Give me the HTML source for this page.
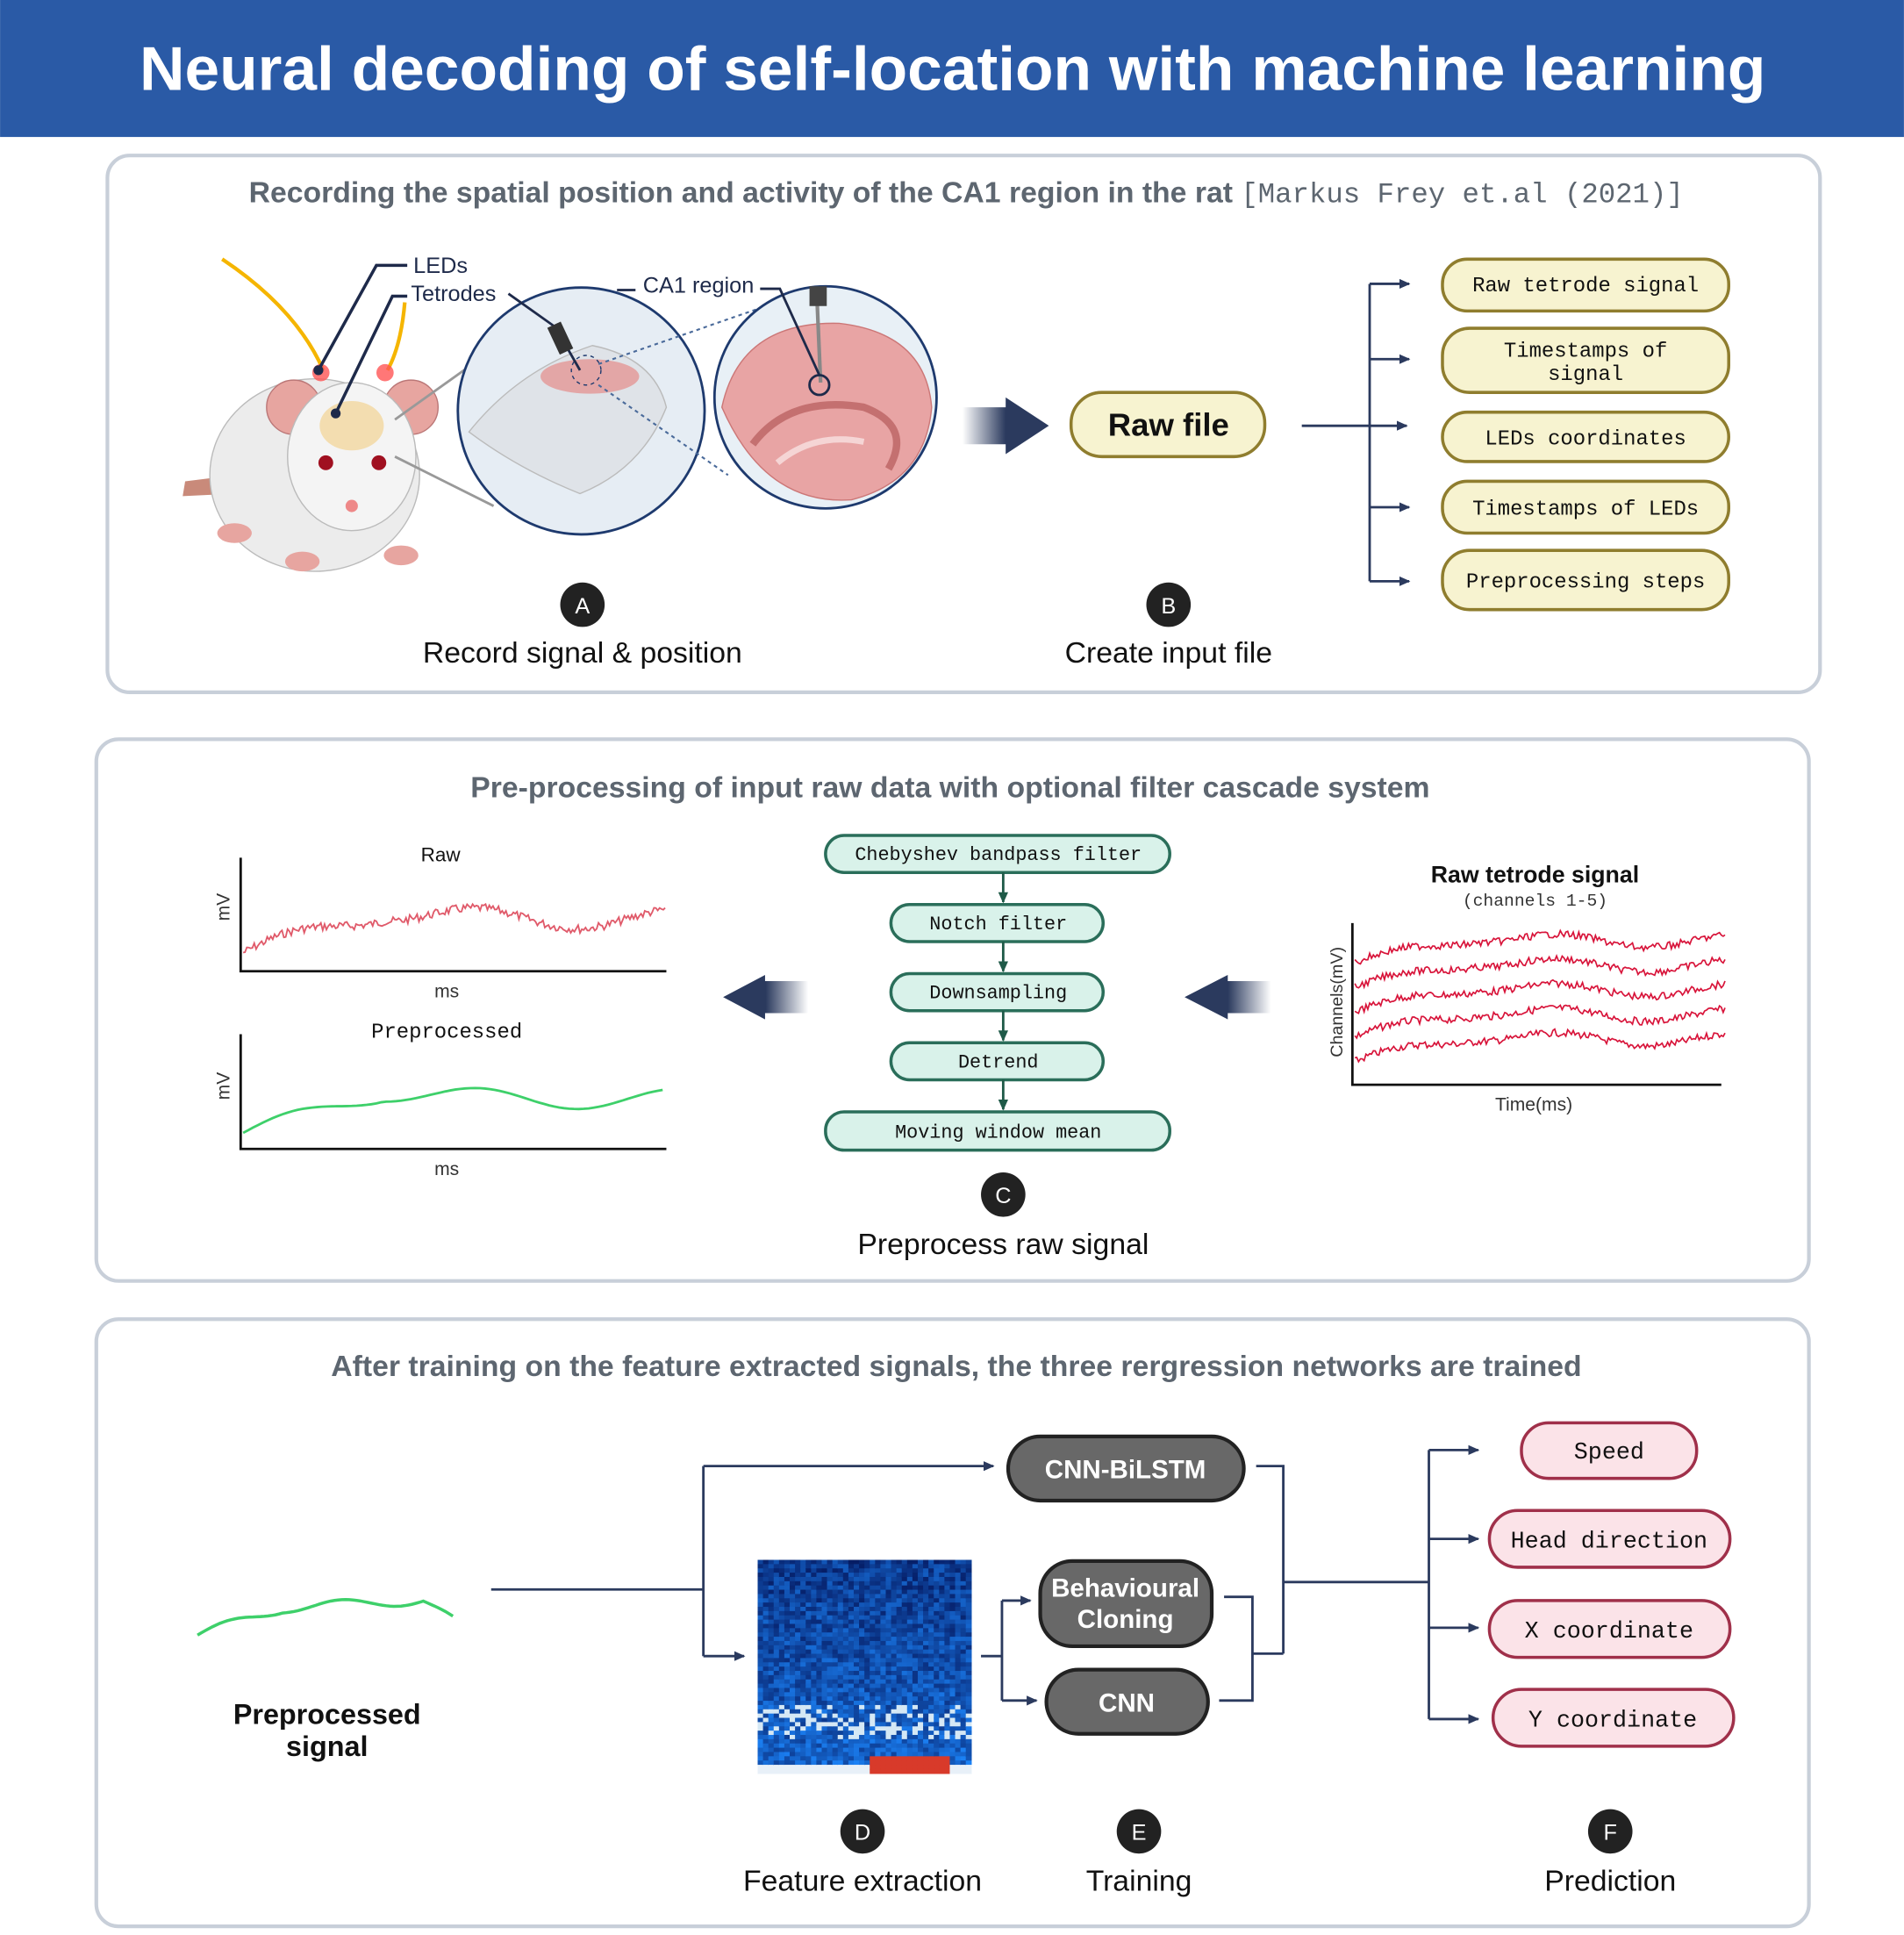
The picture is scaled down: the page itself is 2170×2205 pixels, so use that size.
<!DOCTYPE html>
<html><head><meta charset="utf-8">
<style>
html,body{margin:0;padding:0;background:#fff;}
svg{display:block;}
text{font-family:"Liberation Sans",sans-serif;}
.mono{font-family:"Liberation Mono",monospace;}
</style></head>
<body>
<svg id="s" width="2170" height="2205" viewBox="0 0 1543 1568" xmlns="http://www.w3.org/2000/svg">
<defs>
<marker id="ah" markerWidth="10" markerHeight="10" refX="8" refY="5" orient="auto" markerUnits="userSpaceOnUse"><path d="M0,1 L9,5 L0,9 z" fill="#2b3a5e"/></marker>
<marker id="ag" markerWidth="10" markerHeight="10" refX="8" refY="5" orient="auto" markerUnits="userSpaceOnUse"><path d="M0,1 L9,5 L0,9 z" fill="#1f5a48"/></marker>
<linearGradient id="gr" x1="0" x2="1"><stop offset="0" stop-color="#2b3a5e" stop-opacity="0"/><stop offset="0.5" stop-color="#2b3a5e"/><stop offset="1" stop-color="#2b3a5e"/></linearGradient>
<linearGradient id="gl" x1="1" x2="0"><stop offset="0" stop-color="#2b3a5e" stop-opacity="0"/><stop offset="0.5" stop-color="#2b3a5e"/><stop offset="1" stop-color="#2b3a5e"/></linearGradient>
</defs>
<rect x="0" y="0" width="1543" height="111" fill="#2a5aa6"/>
<text x="772" y="73" text-anchor="middle" font-size="50" font-weight="bold" fill="#fff" textLength="1318" lengthAdjust="spacingAndGlyphs">Neural decoding of self-location with machine learning</text>

<!-- Panel 1 -->
<rect x="87" y="126" width="1388" height="435" rx="18" fill="#fff" stroke="#c8cfd9" stroke-width="3"/>
<text x="783" y="164" text-anchor="middle" font-size="24" font-weight="bold" fill="#5d6670">Recording the spatial position and activity of the CA1 region in the rat <tspan class="mono" font-weight="normal" font-size="23">[Markus Frey et.al (2021)]</tspan></text>

<!-- rat -->
<path d="M180,210 Q240,250 262,300" stroke="#f5b500" stroke-width="3" fill="none"/>
<path d="M328,245 Q325,280 314,300" stroke="#f5b500" stroke-width="3" fill="none"/>
<path d="M150,390 L190,385 L190,400 L148,402z" fill="#c98a7a"/>
<ellipse cx="255" cy="385" rx="85" ry="78" fill="#ececec" stroke="#bbb"/>
<circle cx="238" cy="330" r="22" fill="#e7a5a0" stroke="#b77"/>
<circle cx="333" cy="330" r="22" fill="#e7a5a0" stroke="#b77"/>
<ellipse cx="285" cy="370" rx="52" ry="60" fill="#f4f4f4" stroke="#bbb"/>
<ellipse cx="285" cy="345" rx="26" ry="20" fill="#f3ddb0"/>
<circle cx="264" cy="375" r="6" fill="#a01020"/><circle cx="307" cy="375" r="6" fill="#a01020"/>
<circle cx="285" cy="410" r="5" fill="#e88"/>
<circle cx="260" cy="302" r="7" fill="#f55" opacity="0.8"/><circle cx="312" cy="302" r="7" fill="#f55" opacity="0.8"/>
<ellipse cx="190" cy="432" rx="14" ry="8" fill="#e7a5a0"/><ellipse cx="245" cy="455" rx="14" ry="8" fill="#e7a5a0"/><ellipse cx="325" cy="450" rx="14" ry="8" fill="#e7a5a0"/>
<path d="M258,300 L305,215 L330,215" stroke="#1e2a4a" stroke-width="2.5" fill="none"/>
<path d="M272,335 L318,240 L330,240" stroke="#1e2a4a" stroke-width="2.5" fill="none"/>
<circle cx="258" cy="300" r="4" fill="#1e2a4a"/><circle cx="272" cy="335" r="4" fill="#1e2a4a"/>
<text x="335" y="221" font-size="18" fill="#1e2a4a">LEDs</text>
<text x="333" y="244" font-size="18" fill="#1e2a4a">Tetrodes</text>
<line x1="320" y1="340" x2="390" y2="290" stroke="#999" stroke-width="2"/>
<line x1="320" y1="370" x2="400" y2="410" stroke="#999" stroke-width="2"/>
<circle cx="471" cy="333" r="100" fill="#e6edf4" stroke="#1e3a6e" stroke-width="2"/>
<path d="M380,350 Q420,300 480,280 Q530,290 540,330 Q520,380 470,400 Q420,380 380,350z" fill="#dfe3e8" stroke="#bbb"/>
<ellipse cx="478" cy="305" rx="40" ry="14" fill="#e3a6a6"/>
<circle cx="475" cy="300" r="12" fill="none" stroke="#1e3a6e" stroke-dasharray="3,3"/>
<path d="M412,238 L450,265 L470,300" stroke="#1e2a4a" stroke-width="2" fill="none"/>
<rect x="448" y="262" width="12" height="24" fill="#333" transform="rotate(-25 454 274)"/>
<line x1="485" y1="295" x2="615" y2="250" stroke="#4a6a9a" stroke-dasharray="3,3" stroke-width="1.5"/>
<line x1="485" y1="312" x2="590" y2="385" stroke="#4a6a9a" stroke-dasharray="3,3" stroke-width="1.5"/>
<circle cx="669" cy="322" r="90" fill="#e8f0f6" stroke="#1e3a6e" stroke-width="2"/>
<path d="M585,330 Q600,260 680,262 Q750,270 755,330 Q750,390 690,405 Q620,410 585,330z" fill="#e8a4a4" stroke="#c77"/>
<path d="M610,360 Q640,320 700,330 Q740,345 720,380" stroke="#c47070" stroke-width="6" fill="none"/>
<path d="M630,375 Q660,350 700,358" stroke="#f5d5d5" stroke-width="5" fill="none"/>
<line x1="662" y1="240" x2="665" y2="310" stroke="#888" stroke-width="3"/>
<rect x="656" y="232" width="14" height="16" fill="#444"/>
<circle cx="664" cy="312" r="8" fill="none" stroke="#1e2a4a" stroke-width="2"/>
<path d="M664,304 L632,234 L616,234" stroke="#1e2a4a" stroke-width="2" fill="none"/>
<path d="M500,235 L515,235" stroke="#1e2a4a" stroke-width="2" fill="none"/>
<text x="521" y="237" font-size="18" fill="#1e2a4a">CA1 region</text>

<polygon points="780,330 815,330 815,322 850,345 815,368 815,360 780,360" fill="url(#gr)"/>
<rect x="868" y="318" width="157" height="52" rx="25" fill="#f7f3d0" stroke="#8f7d2e" stroke-width="2.5"/>
<text x="947" y="353" text-anchor="middle" font-size="26" font-weight="bold" fill="#111">Raw file</text>
<line x1="1055" y1="345" x2="1140" y2="345" stroke="#2b3a5e" stroke-width="2" marker-end="url(#ah)"/>
<line x1="1110" y1="230" x2="1110" y2="471" stroke="#2b3a5e" stroke-width="2"/>
<g stroke="#2b3a5e" stroke-width="2" marker-end="url(#ah)">
<line x1="1110" y1="230" x2="1142" y2="230"/><line x1="1110" y1="291" x2="1142" y2="291"/><line x1="1110" y1="411" x2="1142" y2="411"/><line x1="1110" y1="471" x2="1142" y2="471"/></g>
<g fill="#f7f3d0" stroke="#8f7d2e" stroke-width="2.5">
<rect x="1169" y="210" width="232" height="42" rx="20"/><rect x="1169" y="266" width="232" height="52" rx="22"/><rect x="1169" y="334" width="232" height="40" rx="20"/><rect x="1169" y="390" width="232" height="42" rx="20"/><rect x="1169" y="446" width="232" height="48" rx="22"/></g>
<g font-size="17" text-anchor="middle" fill="#111">
<text x="1285" y="236" class="mono">Raw tetrode signal</text>
<text x="1285" y="289" class="mono">Timestamps of</text><text x="1285" y="308" class="mono">signal</text>
<text x="1285" y="360" class="mono">LEDs coordinates</text>
<text x="1285" y="417" class="mono">Timestamps of LEDs</text>
<text x="1285" y="476" class="mono">Preprocessing steps</text></g>
<circle cx="472" cy="490" r="18" fill="#222"/><text x="472" y="497" text-anchor="middle" font-size="18" fill="#fff">A</text>
<text x="472" y="537" text-anchor="middle" font-size="24" fill="#111">Record signal &amp; position</text>
<circle cx="947" cy="490" r="18" fill="#222"/><text x="947" y="497" text-anchor="middle" font-size="18" fill="#fff">B</text>
<text x="947" y="537" text-anchor="middle" font-size="24" fill="#111">Create input file</text>

<!-- Panel 2 -->
<rect x="78" y="599" width="1388" height="439" rx="18" fill="#fff" stroke="#c8cfd9" stroke-width="3"/>
<text x="770" y="646" text-anchor="middle" font-size="24" font-weight="bold" fill="#5d6670">Pre-processing of input raw data with optional filter cascade system</text>
<g stroke="#111" stroke-width="2" fill="none"><path d="M195,695 V787 H540"/><path d="M195,838 V931 H540"/><path d="M1096,748 V879 H1395"/></g>
<text x="357" y="698" text-anchor="middle" font-size="16" fill="#111">Raw</text>
<text x="362" y="841" text-anchor="middle" class="mono" font-size="17" fill="#111">Preprocessed</text>
<text x="362" y="808" text-anchor="middle" font-size="15" fill="#333">ms</text>
<text x="362" y="952" text-anchor="middle" font-size="15" fill="#333">ms</text>
<text transform="translate(186,735) rotate(-90)" text-anchor="middle" font-size="15" fill="#333">mV</text>
<text transform="translate(186,880) rotate(-90)" text-anchor="middle" font-size="15" fill="#333">mV</text>
<polygon points="655,795 620,795 620,790 586,808 620,826 620,821 655,821" fill="url(#gl)"/>
<polygon points="1030,795 995,795 995,790 960,808 995,826 995,821 1030,821" fill="url(#gl)"/>
<g fill="#d9f2ea" stroke="#2a6e5a" stroke-width="2.5">
<rect x="669" y="677" width="279" height="30" rx="15"/><rect x="722" y="733" width="172" height="30" rx="15"/><rect x="722" y="789" width="172" height="30" rx="15"/><rect x="722" y="845" width="172" height="30" rx="15"/><rect x="669" y="901" width="279" height="31" rx="15"/></g>
<g stroke="#1f5a48" stroke-width="2" marker-end="url(#ag)"><line x1="813" y1="707" x2="813" y2="731"/><line x1="813" y1="763" x2="813" y2="787"/><line x1="813" y1="819" x2="813" y2="843"/><line x1="813" y1="875" x2="813" y2="899"/></g>
<g font-size="15.5" text-anchor="middle" fill="#111">
<text x="809" y="697" class="mono">Chebyshev bandpass filter</text><text x="809" y="753" class="mono">Notch filter</text><text x="809" y="809" class="mono">Downsampling</text><text x="809" y="865" class="mono">Detrend</text><text x="809" y="922" class="mono">Moving window mean</text></g>
<circle cx="813" cy="968" r="18" fill="#222"/><text x="813" y="975" text-anchor="middle" font-size="18" fill="#fff">C</text>
<text x="813" y="1016" text-anchor="middle" font-size="24" fill="#111">Preprocess raw signal</text>
<text x="1244" y="715" text-anchor="middle" font-size="19" font-weight="bold" fill="#111">Raw tetrode signal</text>
<text x="1244" y="734" text-anchor="middle" class="mono" font-size="14" fill="#333">(channels 1-5)</text>
<text transform="translate(1088,812) rotate(-90)" text-anchor="middle" font-size="14" fill="#333">Channels(mV)</text>
<text x="1243" y="900" text-anchor="middle" font-size="15" fill="#333">Time(ms)</text>

<!-- Panel 3 -->
<rect x="78" y="1069" width="1388" height="492" rx="18" fill="#fff" stroke="#c8cfd9" stroke-width="3"/>
<text x="775" y="1115" text-anchor="middle" font-size="24" font-weight="bold" fill="#5d6670">After training on the feature extracted signals,  the three rergression networks are trained</text>
<text x="265" y="1397" text-anchor="middle" font-size="23" font-weight="bold" fill="#111">Preprocessed</text>
<text x="265" y="1423" text-anchor="middle" font-size="23" font-weight="bold" fill="#111">signal</text>
<g stroke="#2b3a5e" stroke-width="2" fill="none">
<path d="M398,1288 H570"/><path d="M570,1188 V1342"/>
<line x1="570" y1="1188" x2="805" y2="1188" marker-end="url(#ah)"/>
<line x1="570" y1="1342" x2="603" y2="1342" marker-end="url(#ah)"/>
<path d="M795,1342 H812 V1297 M812,1342 V1378"/>
<line x1="812" y1="1297" x2="835" y2="1297" marker-end="url(#ah)"/>
<line x1="812" y1="1378" x2="840" y2="1378" marker-end="url(#ah)"/>
<path d="M992,1294 H1015 V1378 H988 M1015,1340 H1040 M1018,1188 H1040 V1340 M1040,1282 H1158 M1158,1175 V1393"/>
<line x1="1158" y1="1175" x2="1198" y2="1175" marker-end="url(#ah)"/>
<line x1="1158" y1="1247" x2="1198" y2="1247" marker-end="url(#ah)"/>
<line x1="1158" y1="1319" x2="1198" y2="1319" marker-end="url(#ah)"/>
<line x1="1158" y1="1393" x2="1198" y2="1393" marker-end="url(#ah)"/>
</g>
<g id="spec"></g>
<g fill="#686868" stroke="#222" stroke-width="3">
<rect x="817" y="1164" width="191" height="52" rx="26"/><rect x="843" y="1265" width="139" height="69" rx="26"/><rect x="848" y="1353" width="131" height="52" rx="26"/></g>
<g font-size="21" font-weight="bold" fill="#fff" text-anchor="middle">
<text x="912" y="1198">CNN-BiLSTM</text><text x="912" y="1294">Behavioural</text><text x="912" y="1319">Cloning</text><text x="913" y="1387">CNN</text></g>
<g fill="#fbe3e8" stroke="#a0304a" stroke-width="2.5">
<rect x="1233" y="1153" width="142" height="45" rx="22"/><rect x="1207" y="1224" width="195" height="46" rx="23"/><rect x="1207" y="1297" width="195" height="46" rx="23"/><rect x="1210" y="1369" width="195" height="46" rx="23"/></g>
<g font-size="19" text-anchor="middle" fill="#111">
<text x="1304" y="1182" class="mono">Speed</text><text x="1304" y="1254" class="mono">Head direction</text><text x="1304" y="1327" class="mono">X coordinate</text><text x="1307" y="1399" class="mono">Y coordinate</text></g>
<circle cx="699" cy="1484" r="18" fill="#222"/><text x="699" y="1491" text-anchor="middle" font-size="18" fill="#fff">D</text>
<circle cx="923" cy="1484" r="18" fill="#222"/><text x="923" y="1491" text-anchor="middle" font-size="18" fill="#fff">E</text>
<circle cx="1305" cy="1484" r="18" fill="#222"/><text x="1305" y="1491" text-anchor="middle" font-size="18" fill="#fff">F</text>
<text x="699" y="1532" text-anchor="middle" font-size="24" fill="#111">Feature extraction</text>
<text x="923" y="1532" text-anchor="middle" font-size="24" fill="#111">Training</text>
<text x="1305" y="1532" text-anchor="middle" font-size="24" fill="#111">Prediction</text>
<g id="sig"></g>
</svg>
<script>
(function(){
var NS="http://www.w3.org/2000/svg";
var seed=7;function r(){seed=(seed*9301+49297)%233280;return seed/233280;}
function path(g,d,c,w){var p=document.createElementNS(NS,"path");p.setAttribute("d",d);p.setAttribute("stroke",c);p.setAttribute("stroke-width",w);p.setAttribute("fill","none");g.appendChild(p);}
function base(t){var a=-Math.min(1,t*3)*0.55; a-=0.12*Math.sin(t*14)+0.1*Math.sin(t*6)*t; return a;}
var sig=document.getElementById("sig");
var d="";for(var x=197;x<=540;x+=1.5){var t=(x-197)/343;var y=772+base(t)*55+(r()-0.5)*7;d+=(d?"L":"M")+x+","+y.toFixed(1);}
path(sig,d,"#e05a6a",1.3);
d="";for(var x=197;x<=540;x+=4){var t=(x-197)/343;var y=918+base(t)*55;d+=(d?"L":"M")+x+","+y.toFixed(1);}
path(sig,d,"#3ed06a",2);
for(var k=0;k<5;k++){d="";for(var x=1098;x<=1398;x+=1.5){var t=(x-1098)/300;var y=860-k*20+base(t)*35+(r()-0.5)*6;d+=(d?"L":"M")+x+","+y.toFixed(1);}path(sig,d,"#d8143a",1.2);}
d="";for(var x=160;x<=368;x+=3){var t=(x-160)/208;var y=1325-Math.min(1,t*3)*18-Math.sin(t*14)*4-t*12+(t>0.88?(t-0.88)*160:0);d+=(d?"L":"M")+x+","+y.toFixed(1);}
path(sig,d,"#3ed06a",2.5);
var sp=document.getElementById("spec");
var cw=173/40,ch=173/50;
for(var i=0;i<40;i++)for(var j=0;j<50;j++){var v=r();var col;
if(j>=46&&i>20&&i<36)col="#d83a2a";else if(j>=48)col="#e8f0f8";else if(j>33&&j<42&&r()<0.3)col="#d5e8f5";else{var b=40+v*90+(j/50)*60;col="rgb("+Math.floor(b*0.15)+","+Math.floor(b*0.7)+","+Math.min(255,Math.floor(b+60))+")";}
var q=document.createElementNS(NS,"rect");q.setAttribute("x",614+i*cw);q.setAttribute("y",1264+j*ch);q.setAttribute("width",cw+0.5);q.setAttribute("height",ch+0.5);q.setAttribute("fill",col);sp.appendChild(q);}
})();
</script>
</body></html>
